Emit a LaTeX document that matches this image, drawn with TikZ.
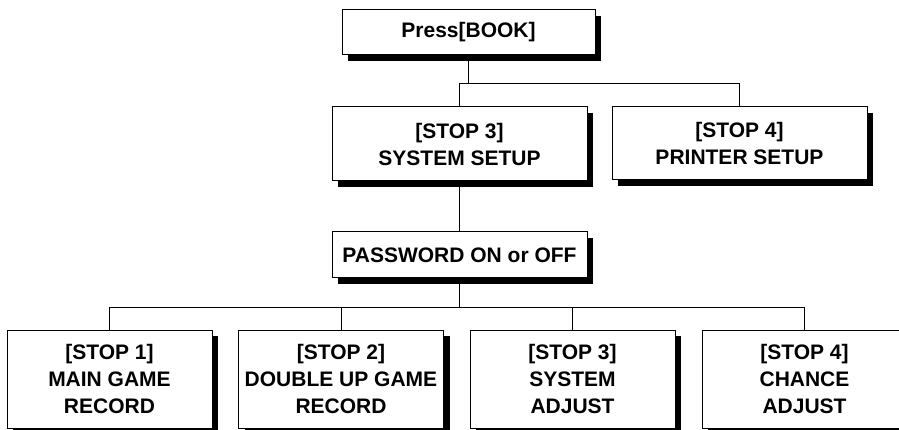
\documentclass[tikz,border=0pt]{standalone}
\usepackage{fontspec}
\setmainfont{Liberation Sans}
\usetikzlibrary{shadows}
\begin{document}
\begin{tikzpicture}[x=1pt,y=-1pt,
  box/.style={draw=black, line width=1pt, fill=white, align=center, inner sep=0pt,
    font={\fontsize{21}{27}\selectfont\bfseries},
    drop shadow={shadow xshift=6pt, shadow yshift=-6pt, opacity=1, fill=black}},
  link/.style={draw=black, line width=1pt}]
\useasboundingbox (0,0) rectangle (899,430);
\fill[white] (0,0) rectangle (899,430);
\node[box, minimum width=253pt, minimum height=45pt] (press) at (468.5,32.5) {Press[BOOK]};
\node[box, minimum width=255pt, minimum height=74pt] (sys) at (459.5,144) {[STOP 3]\\SYSTEM SETUP};
\node[box, minimum width=255pt, minimum height=73pt] (prn) at (739.5,143.5) {[STOP 4]\\PRINTER SETUP};
\node[box, minimum width=255pt, minimum height=46pt] (pwd) at (459.5,255) {PASSWORD ON or OFF};
\node[box, minimum width=205pt, minimum height=98pt] (b1) at (109.5,379) {[STOP 1]\\MAIN GAME\\RECORD};
\node[box, minimum width=205pt, minimum height=98pt] (b2) at (341,379) {[STOP 2]\\DOUBLE UP GAME\\RECORD};
\node[box, minimum width=205pt, minimum height=98pt] (b3) at (572.5,379) {[STOP 3]\\SYSTEM\\ADJUST};
\node[box, minimum width=205pt, minimum height=98pt] (b4) at (804.5,379) {[STOP 4]\\CHANCE\\ADJUST};
\coordinate (bar1) at (0,84);
\coordinate (bar2) at (0,307);
\draw[link] (press.south) -- (press.south |- bar1);
\draw[link] (sys.north) |- (prn.north |- bar1) -- (prn.north);
\draw[link] (sys.south) -- (pwd.north);
\draw[link] (pwd.south) -- (pwd.south |- bar2);
\draw[link] (b1.north) |- (b4.north |- bar2) -- (b4.north);
\draw[link] (b2.north) -- (b2.north |- bar2);
\draw[link] (b3.north) -- (b3.north |- bar2);
\end{tikzpicture}
\end{document}
